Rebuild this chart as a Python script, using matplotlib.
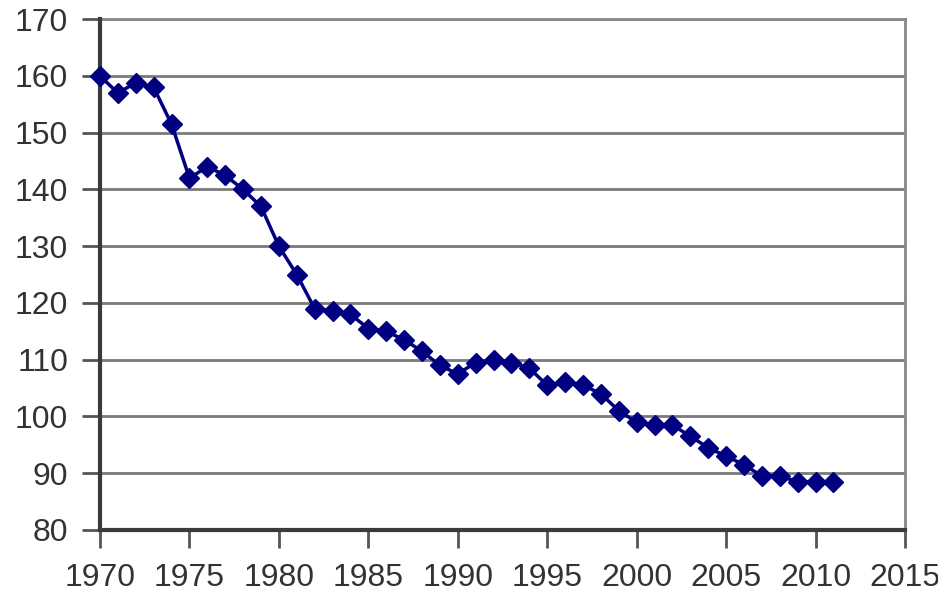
import matplotlib
matplotlib.use('Agg')
import matplotlib.pyplot as plt

plt.rcParams['font.family'] = ['Liberation Sans', 'DejaVu Sans']

years = list(range(1970, 2012))
values = [160, 157, 158.8, 158, 151.5, 142, 144, 142.5, 140, 137,
          130, 125, 119, 118.5, 118, 115.5, 115, 113.5, 111.5, 109,
          107.5, 109.5, 110, 109.5, 108.5, 105.5, 106, 105.5, 104, 101,
          99, 98.5, 98.5, 96.5, 94.5, 93, 91.5, 89.5, 89.5, 88.5,
          88.5, 88.5]
xticks = list(range(1970, 2020, 5))
yticks = list(range(80, 180, 10))

fig = plt.figure(figsize=(9.38, 6), dpi=100)
ax = fig.add_axes([0.1066, 0.1167, 0.8582, 0.8513])

ax.plot(years, values, color='#000080', lw=2.5, marker='D', ms=10,
        markeredgecolor='#000080', zorder=5, clip_on=False)

ax.set_xlim(1970, 2015)
ax.set_ylim(80, 170)
ax.set_xticks(xticks)
ax.set_yticks(yticks)
ax.yaxis.grid(True, color='#7a7a7a', lw=2)
ax.set_axisbelow(True)

for s in ['top', 'right']:
    ax.spines[s].set_color('#888888')
    ax.spines[s].set_linewidth(2)
for s in ['left', 'bottom']:
    ax.spines[s].set_color('#3a3a3a')
    ax.spines[s].set_linewidth(3)
    ax.spines[s].set_zorder(4)

ax.tick_params(axis='both', labelsize=23, labelcolor='#333333',
               color='#555555', width=2, length=13, direction='out')
ax.tick_params(axis='x', pad=11)
ax.tick_params(axis='y', pad=10)

fig.savefig('out.png', dpi=100, facecolor='white')
